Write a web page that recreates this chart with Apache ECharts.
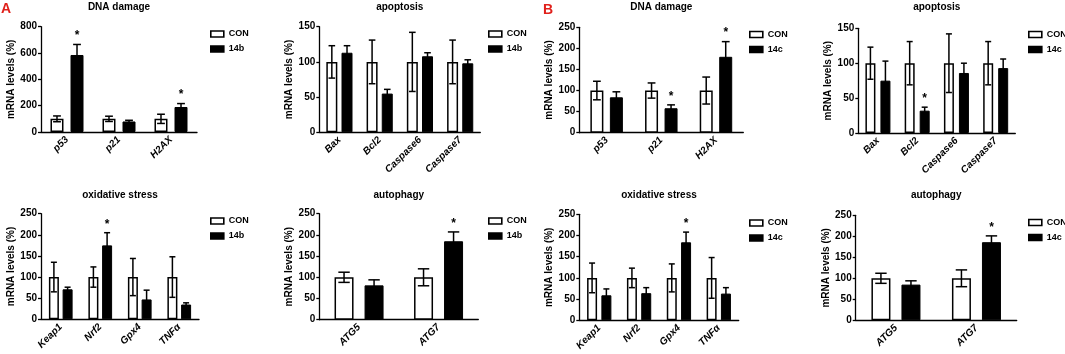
<!DOCTYPE html>
<html>
<head>
<meta charset="utf-8">
<script src="https://cdn.jsdelivr.net/npm/echarts@6/dist/echarts.min.js"></script>
<style>
  html, body { margin: 0; padding: 0; background: #fff; }
  #main { width: 1065px; height: 354px; }
</style>
</head>
<body>
<div id="main"></div>
<script>
// categories
var catDNA = ['p53', 'p21', 'H2AX'];
var catApop = ['Bax', 'Bcl2', 'Caspase6', 'Caspase7'];
var catOx = ['Keap1', 'Nrf2', 'Gpx4', 'TNFα'];
var catAuto = ['ATG5', 'ATG7'];

// y ticks
var ticks800 = [0, 200, 400, 600, 800];
var ticks150 = [0, 50, 100, 150];
var ticks250 = [0, 50, 100, 150, 200, 250];

// A: 14b
var aDnaCon = [100, 100, 100], aDnaConSd = [22, 20, 35];
var aDnaTrt = [585, 80, 190], aDnaTrtSd = [80, 9, 26];
var aDnaSig = [1, 0, 1];

var aApoCon = [100, 100, 100, 100], aApoConSd = [23, 31, 42, 31];
var aApoTrt = [113, 55, 108, 98], aApoTrtSd = [10, 6, 5, 5];
var aApoSig = [0, 0, 0, 0];

var aOxCon = [100, 100, 100, 100], aOxConSd = [35, 24, 44, 48];
var aOxTrt = [71, 175, 47, 35], aOxTrtSd = [5, 30, 22, 4];
var aOxSig = [0, 1, 0, 0];

var aAutoCon = [100, 100], aAutoConSd = [12, 20];
var aAutoTrt = [81, 185], aAutoTrtSd = [13, 22];
var aAutoSig = [0, 1];

// B: 14c
var bDnaCon = [100, 100, 100], bDnaConSd = [22, 18, 32];
var bDnaTrt = [84, 58, 180], bDnaTrtSd = [13, 8, 36];
var bDnaSig = [0, 1, 1];

var bApoCon = [100, 100, 100, 100], bApoConSd = [23, 31, 42, 31];
var bApoTrt = [75, 32, 86, 93], bApoTrtSd = [28, 5, 14, 13];
var bApoSig = [0, 1, 0, 0];

var bOxCon = [100, 100, 100, 100], bOxConSd = [35, 23, 33, 48];
var bOxTrt = [59, 64, 184, 63], bOxTrtSd = [15, 13, 24, 14];
var bOxSig = [0, 0, 1, 0];

var bAutoCon = [100, 100], bAutoConSd = [12, 20];
var bAutoTrt = [85, 186], bAutoTrtSd = [9, 15];
var bAutoSig = [0, 1];

var FONT = '"Liberation Sans", Arial, sans-serif';

var panels = [
    {title: 'DNA damage', cats: catDNA, ticks: ticks800, trtName: '14b', con: aDnaCon, conSd: aDnaConSd, trt: aDnaTrt, trtSd: aDnaTrtSd, sig: aDnaSig,
     grid: {left: 41, top: 26.7, width: 156, height: 105.3}, barW: 13, gap: 0.54, legend: [210, 28.5]},
    {title: 'apoptosis', cats: catApop, ticks: ticks150, trtName: '14b', con: aApoCon, conSd: aApoConSd, trt: aApoTrt, trtSd: aApoTrtSd, sig: aApoSig,
     grid: {left: 319.3, top: 26.7, width: 161, height: 105.6}, barW: 11, gap: 0.38, legend: [488, 28.5]},
    {title: 'DNA damage', cats: catDNA, ticks: ticks250, trtName: '14c', con: bDnaCon, conSd: bDnaConSd, trt: bDnaTrt, trtSd: bDnaTrtSd, sig: bDnaSig,
     grid: {left: 579.3, top: 27.3, width: 164, height: 105.4}, barW: 13, gap: 0.5, legend: [749, 29]},
    {title: 'apoptosis', cats: catApop, ticks: ticks150, trtName: '14c', con: bApoCon, conSd: bApoConSd, trt: bApoTrt, trtSd: bApoTrtSd, sig: bApoSig,
     grid: {left: 858.3, top: 28.3, width: 157, height: 104.7}, barW: 10, gap: 0.5, legend: [1028, 29]},
    {title: 'oxidative stress', cats: catOx, ticks: ticks250, trtName: '14b', con: aOxCon, conSd: aOxConSd, trt: aOxTrt, trtSd: aOxTrtSd, sig: aOxSig,
     grid: {left: 41, top: 213.7, width: 158, height: 105.6}, barW: 10, gap: 0.37, legend: [210, 215.5]},
    {title: 'autophagy', cats: catAuto, ticks: ticks250, trtName: '14b', con: aAutoCon, conSd: aAutoConSd, trt: aAutoTrt, trtSd: aAutoTrtSd, sig: aAutoSig,
     grid: {left: 319.3, top: 213.7, width: 159, height: 106}, barW: 19, gap: 0.58, legend: [488, 215.5]},
    {title: 'oxidative stress', cats: catOx, ticks: ticks250, trtName: '14c', con: bOxCon, conSd: bOxConSd, trt: bOxTrt, trtSd: bOxTrtSd, sig: bOxSig,
     grid: {left: 579.3, top: 214.3, width: 159.4, height: 106}, barW: 10, gap: 0.43, legend: [749, 217.5]},
    {title: 'autophagy', cats: catAuto, ticks: ticks250, trtName: '14c', con: bAutoCon, conSd: bAutoConSd, trt: bAutoTrt, trtSd: bAutoTrtSd, sig: bAutoSig,
     grid: {left: 855.7, top: 215.3, width: 161, height: 105}, barW: 19, gap: 0.58, legend: [1028, 217]}
];

function errorBars(shift, barW) {
    return function(params, api) {
        var idx = api.value(0), v = api.value(1), sd = api.value(2), sig = api.value(3);
        var base = api.coord([idx, v]);
        var top = api.coord([idx, v + sd]);
        var bot = api.coord([idx, v - sd]);
        var x = base[0] + shift;
        var cap = barW * 0.3;
        var ls = {stroke: '#000', lineWidth: 1.5};
        var children = [
            {type: 'line', shape: {x1: x, y1: top[1], x2: x, y2: bot[1]}, style: ls},
            {type: 'line', shape: {x1: x - cap, y1: top[1], x2: x + cap, y2: top[1]}, style: ls},
            {type: 'line', shape: {x1: x - cap, y1: bot[1], x2: x + cap, y2: bot[1]}, style: ls}
        ];
        if (sig) {
            children.push({type: 'text', x: x, y: top[1] - 8.5,
                style: {text: '*', fill: '#000', font: 'bold 12px ' + FONT, align: 'center', verticalAlign: 'middle'}});
        }
        return {type: 'group', children: children};
    };
}

var grids = [], xAxes = [], yAxes = [], series = [], legends = [], graphics = [];

panels.forEach(function(p, i) {
    grids.push(p.grid);
    var t = p.ticks;
    xAxes.push({
        type: 'category', gridIndex: i, data: p.cats,
        axisLine: {lineStyle: {color: '#000', width: 1.3}},
        axisTick: {alignWithLabel: true, length: 3, lineStyle: {color: '#000', width: 1.3}},
        axisLabel: {interval: 0, rotate: 45, margin: 6, color: '#000', fontSize: 10,
            fontWeight: 'bold', fontStyle: 'italic', fontFamily: FONT}
    });
    yAxes.push({
        type: 'value', gridIndex: i, min: t[0], max: t[t.length - 1], interval: t[1] - t[0],
        name: 'mRNA levels (%)', nameLocation: 'middle', nameGap: 23,
        nameTextStyle: {color: '#000', fontSize: 10, fontWeight: 'bold', fontFamily: FONT},
        axisLine: {show: true, lineStyle: {color: '#000', width: 1.3}},
        axisTick: {show: true, length: 3, lineStyle: {color: '#000', width: 1.3}},
        splitLine: {show: false},
        axisLabel: {margin: 4, color: '#000', fontSize: 10, fontWeight: 'bold', fontFamily: FONT}
    });
    var gapPct = Math.round(p.gap * 100) + '%';
    series.push({
        name: 'CON', type: 'bar', xAxisIndex: i, yAxisIndex: i, data: p.con,
        barWidth: p.barW, barGap: gapPct,
        itemStyle: {color: '#fff', borderColor: '#000', borderWidth: 1.5}
    });
    series.push({
        name: p.trtName, type: 'bar', xAxisIndex: i, yAxisIndex: i, data: p.trt,
        barWidth: p.barW, barGap: gapPct,
        itemStyle: {color: '#000', borderColor: '#000', borderWidth: 1}
    });
    var shift = p.barW * (1 + p.gap) / 2;
    series.push({
        type: 'custom', xAxisIndex: i, yAxisIndex: i, z: 5, clip: false,
        renderItem: errorBars(-shift, p.barW), encode: {x: 0, y: 1},
        data: p.con.map(function(v, k) { return [k, v, p.conSd[k], 0]; })
    });
    series.push({
        type: 'custom', xAxisIndex: i, yAxisIndex: i, z: 5, clip: false,
        renderItem: errorBars(shift, p.barW), encode: {x: 0, y: 1},
        data: p.trt.map(function(v, k) { return [k, v, p.trtSd[k], p.sig[k]]; })
    });
    legends.push({
        data: ['CON', p.trtName], orient: 'vertical', left: p.legend[0], top: p.legend[1],
        padding: 0, itemGap: 4, itemWidth: 13, itemHeight: 6, icon: 'rect', selectedMode: false,
        itemStyle: {borderWidth: 1.6},
        textStyle: {color: '#000', fontSize: 9, fontWeight: 'bold', fontFamily: FONT, lineHeight: 11}
    });
    graphics.push({
        type: 'text', x: p.grid.left + p.grid.width / 2, y: i < 4 ? 7.5 : 195.5,
        style: {text: p.title, fill: '#000', font: 'bold 10px ' + FONT, align: 'center', verticalAlign: 'middle'}
    });
});

graphics.push({type: 'text', x: 1, y: 9.5,
    style: {text: 'A', fill: '#e0201b', font: 'bold 14px ' + FONT, verticalAlign: 'middle'}});
graphics.push({type: 'text', x: 543, y: 10.5,
    style: {text: 'B', fill: '#e0201b', font: 'bold 14px ' + FONT, verticalAlign: 'middle'}});

var myChart = echarts.init(document.getElementById('main'));
myChart.setOption({
    animation: false,
    backgroundColor: '#fff',
    grid: grids,
    xAxis: xAxes,
    yAxis: yAxes,
    legend: legends,
    graphic: graphics,
    series: series
});
</script>
</body>
</html>
